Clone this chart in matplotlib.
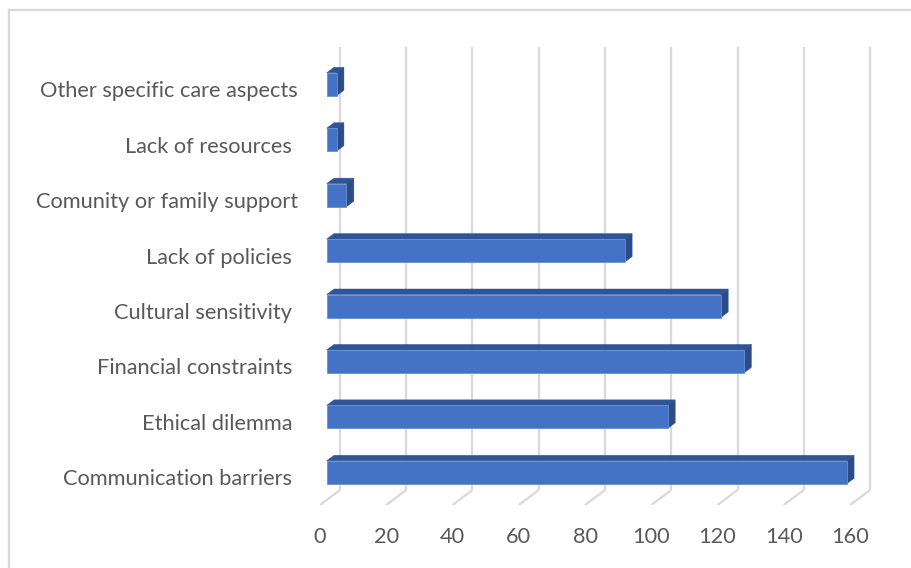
import matplotlib
matplotlib.use("Agg")
import matplotlib.pyplot as plt
from matplotlib.patches import Polygon
from matplotlib.lines import Line2D

categories = ["Communication barriers ", "Ethical dilemma ", "Financial constraints ",
              "Cultural sensitivity ", "Lack of policies ", "Comunity or family support",
              "Lack of resources ", "Other specific care aspects"]
values = [157, 103, 126, 119, 90, 6, 3, 3]
xticks = [0, 20, 40, 60, 80, 100, 120, 140, 160]

W, H = 912, 568
fig = plt.figure(figsize=(W / 100, H / 100), dpi=100)
plt.rcParams['font.family'] = ['Lato', 'DejaVu Sans']

px_per_unit = 3.3125
px_per_cat = 55.43
ax_left, ax_right, ax_bottom, ax_top = 320, 890, 505, 40
ax = fig.add_axes([ax_left / W, (H - ax_bottom) / H, (ax_right - ax_left) / W, (ax_bottom - ax_top) / H])
ax.set_xlim(0, (ax_right - ax_left) / px_per_unit)
ax.set_ylim(-0.5, -0.5 + (ax_bottom - ax_top) / px_per_cat)

DX = 20 / px_per_unit   # depth shift in x (data units) for full depth
DY = 15 / px_per_cat    # depth shift in y (category units)
grid_c = "#d9d9d9"
n = len(categories)

# back wall gridlines and floor lines
for t in xticks:
    ax.plot([t + DX, t + DX], [-0.5 + DY, n - 0.5 + DY], color=grid_c, lw=1.6, zorder=1,
            solid_capstyle='butt')
    ax.plot([t, t + DX], [-0.5, -0.5 + DY], color=grid_c, lw=1.6, zorder=1,
            solid_capstyle='butt')

# 3D bars
d0, d1 = 0.33, 0.70
bh = 0.415
front_c, top_c, side_c = "#4472C4", "#2F5597", "#2B4C87"
for i, v in enumerate(values):
    yc = i + d0 * DY
    x0 = d0 * DX
    ax.barh(yc, v, left=x0, height=bh, color=front_c, edgecolor="#6a8fd3", linewidth=0.6, zorder=3)
    bot0, top0 = yc - bh / 2, yc + bh / 2
    ddx, ddy = (d1 - d0) * DX, (d1 - d0) * DY
    top_face = Polygon([(x0, top0), (x0 + v, top0), (x0 + v + ddx, top0 + ddy), (x0 + ddx, top0 + ddy)],
                       closed=True, facecolor=top_c, edgecolor=top_c, lw=0.3, zorder=2)
    side_face = Polygon([(x0 + v, bot0), (x0 + v, top0), (x0 + v + ddx, top0 + ddy), (x0 + v + ddx, bot0 + ddy)],
                        closed=True, facecolor=side_c, edgecolor=side_c, lw=0.3, zorder=2)
    ax.add_patch(top_face)
    ax.add_patch(side_face)

ax.set_yticks(range(n))
ax.set_yticklabels(categories)
ax.set_xticks(xticks)
ax.set_xticklabels([str(t) for t in xticks])
ax.tick_params(axis='y', length=0, pad=16, labelsize=15.7, labelcolor="#595959")
ax.tick_params(axis='x', length=0, pad=15.5, labelsize=15.7, labelcolor="#595959")
for s in ax.spines.values():
    s.set_visible(False)

# chart border
fig.add_artist(Line2D([9.5 / W, 9.5 / W], [0, (H - 10) / H], color="#d9d9d9", lw=1.6))
fig.add_artist(Line2D([9.5 / W, 1], [(H - 10) / H, (H - 10) / H], color="#d9d9d9", lw=1.6))

fig.savefig("out.png", dpi=100)
